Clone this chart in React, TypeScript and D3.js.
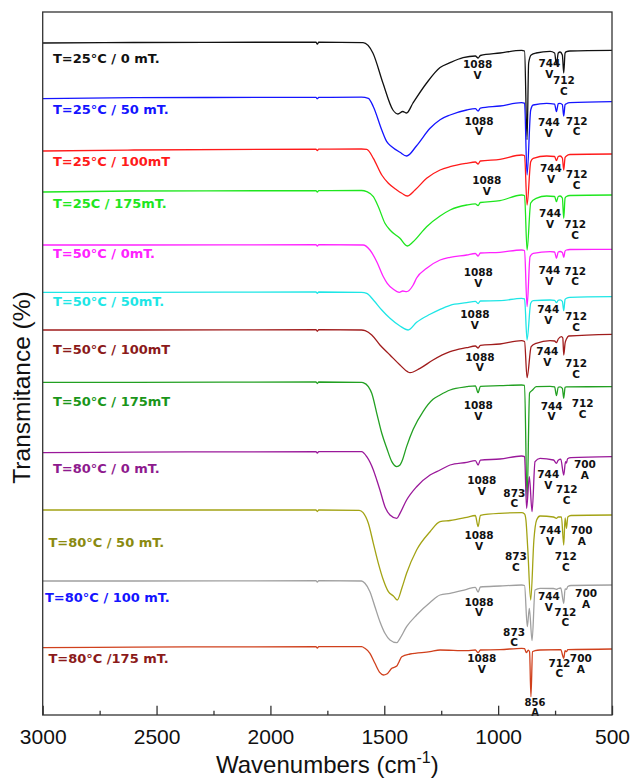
import React, { useEffect, useRef } from 'react';
import * as d3 from 'd3';

type Pt = [number, number];
type Peak = [string, string, number, number]; // peak, band, label wavenumber, label depth below trace

// x axis ticks (cm-1)
const X_TICKS = [3000, 2500, 2000, 1500, 1000, 500];
const X_MINOR = [2750, 2250, 1750, 1250, 750];

const SERIES_NAMES = [
  'T=25°C / 0 mT.', 'T=25°C / 50 mT.', 'T=25°C / 100mT', 'T=25C / 175mT.',
  'T=50°C / 0mT.', 'T=50°C / 50mT.', 'T=50°C / 100mT', 'T=50°C / 175mT',
  'T=80°C / 0 mT.', 'T=80°C / 50 mT.', 'T=80°C / 100 mT.', 'T=80°C /175 mT.',
];

const LINE_COLORS = [
  '#111111', '#1414ff', '#ff1a1a', '#1ee61e', '#ff22ff', '#1ee6e6',
  '#a01c1c', '#22a022', '#9a189a', '#a3a314', '#a0a0a0', '#d0401c',
];
const LABEL_COLORS = [
  '#111111', '#1414ff', '#ff1a1a', '#1ee61e', '#ff22ff', '#1ee6e6',
  '#8b1a1a', '#1a961a', '#8e1a8e', '#8a8a10', '#1414ff', '#8b1a1a',
];

// stacking offset of each trace (arb. transmittance units)
const OFFSETS = [672, 616.3, 564, 523, 470, 422.7, 385, 332.7, 262.3, 205, 134, 67.3];

// [wavenumber, change from the trace's own high-wavenumber baseline]
const S_25_0: Pt[] = [[3000,0],[2600,0.5],[1800,0.8],[1794,-1.2],[1788,0.8],[1593,0.3],[1550,-10],[1506,-40],[1462,-67],[1440,-71],[1419,-68.5],[1402,-70],[1374,-60],[1314,-40],[1255,-24.5],[1211,-19.7],[1154,-14.7],[1100,-13],[1088,-15],[1078,-12.5],[992,-10],[897,-7.4],[884,-8],[873,-96.7],[866,-20],[855,-12],[833,-10],[772,-8.4],[752,-10],[744,-21.7],[736,-10],[728,-9],[718,-12],[712,-30],[706,-10],[700,-8.7],[685,-8],[500,-7.4]];
const S_25_50: Pt[] = [[3000,0],[2600,1],[1800,1.3],[1794,0],[1788,1.3],[1600,1.5],[1570,0.4],[1548,-8],[1511,-31.3],[1489,-43],[1467,-48],[1431,-53.6],[1402,-57.3],[1358,-47],[1299,-29.6],[1255,-21],[1211,-16.3],[1138,-11.3],[1100,-10],[1088,-12.3],[1078,-9.5],[992,-7.3],[897,-4],[884,-4.5],[873,-76.3],[857,-11.3],[846,-6.3],[787,-4.6],[752,-5.5],[744,-13],[736,-5],[728,-4.6],[718,-6],[712,-17.3],[706,-6],[700,-5],[685,-4],[500,-3]];
const S_25_100: Pt[] = [[3000,0],[2600,1],[1800,1.8],[1794,0.5],[1788,1.8],[1600,2],[1577,1.7],[1548,-7.3],[1511,-24],[1482,-32.3],[1445,-39],[1423,-42.3],[1399,-45],[1365,-39],[1314,-27.3],[1255,-19],[1211,-15.7],[1138,-12.3],[1100,-11],[1088,-13],[1078,-10],[992,-8.3],[897,-4],[884,-4.5],[873,-54],[857,-10.7],[846,-7.3],[787,-5],[752,-5.5],[744,-9.7],[736,-5.5],[728,-5],[718,-7],[712,-19],[706,-6.5],[700,-5],[685,-3.5],[500,-3]];
const S_25_175: Pt[] = [[3000,0],[2600,1],[1800,1.3],[1794,0],[1788,1.3],[1600,1.5],[1577,0.3],[1548,-4.7],[1526,-14.7],[1497,-31.3],[1475,-38],[1431,-46.3],[1399,-54],[1373,-49.7],[1314,-34.7],[1255,-24],[1211,-18],[1138,-13],[1100,-11.8],[1088,-13.5],[1078,-10.5],[992,-8.7],[897,-3],[884,-3.5],[873,-58],[857,-11],[833,-6.3],[787,-4],[752,-4.5],[744,-9.7],[736,-4.5],[728,-4],[718,-6],[712,-26.3],[706,-6],[700,-4.5],[685,-3.5],[500,-3]];
const S_50_0: Pt[] = [[3000,0],[2600,0],[1800,0.3],[1794,-1],[1788,0.3],[1593,0],[1563,-5],[1533,-16.7],[1504,-31.7],[1487,-38.3],[1460,-44.3],[1434,-47.3],[1419,-46],[1402,-46.7],[1373,-40],[1358,-33],[1314,-23.3],[1255,-15],[1211,-12.3],[1138,-10],[1100,-8.5],[1088,-11],[1078,-8],[992,-7.3],[897,-5],[884,-5.5],[873,-61.7],[860,-11.7],[846,-8.3],[772,-6.7],[752,-7],[744,-13.3],[736,-7],[728,-6.5],[718,-7.5],[712,-12.3],[706,-6],[700,-5],[685,-4.5],[500,-4.3]];
const S_50_50: Pt[] = [[3000,0],[2600,0],[1800,0.3],[1794,-1],[1788,0.3],[1600,0],[1577,-1],[1548,-7.7],[1511,-17.7],[1475,-26],[1431,-33.7],[1395,-37.7],[1358,-30],[1299,-22],[1255,-17],[1211,-13],[1138,-10.4],[1100,-9],[1088,-11.2],[1078,-8.7],[992,-8.4],[897,-6],[884,-6.5],[873,-47.7],[857,-11],[846,-8.4],[772,-7.7],[752,-8],[744,-10.4],[736,-8],[728,-7.5],[718,-9],[712,-18.4],[706,-7],[700,-6],[685,-5],[500,-4.4]];
const S_50_100: Pt[] = [[3000,0],[2600,0],[1800,0.3],[1794,-1.3],[1788,0.3],[1600,0],[1584,-0.7],[1555,-5],[1519,-15],[1475,-25],[1431,-35],[1398,-41.7],[1387,-42.7],[1343,-38.3],[1286,-30],[1211,-21.7],[1138,-17.7],[1100,-16],[1088,-18],[1078,-15.3],[992,-14],[897,-10.7],[884,-11.5],[873,-47.7],[855,-16.7],[833,-13.3],[772,-10.7],[752,-11],[744,-12.7],[736,-9],[722,-6.7],[716,-8],[712,-25],[706,-13],[700,-9],[690,-6],[500,-4.3]];
const S_50_175: Pt[] = [[3000,0],[2600,0],[1800,0.3],[1794,-1.2],[1788,0.3],[1600,0],[1593,-0.3],[1570,-4.3],[1555,-11],[1533,-31],[1511,-51],[1489,-66],[1467,-79.3],[1445,-84.3],[1431,-82.7],[1423,-79.3],[1402,-64.3],[1373,-47],[1329,-29],[1286,-17],[1255,-12.7],[1211,-7.7],[1138,-4.4],[1100,-3.5],[1088,-10.4],[1078,-4],[992,-3.4],[897,-2.7],[884,-3],[873,-118],[862,-10.7],[850,-8],[833,-4.4],[772,-4],[752,-4.5],[744,-13.4],[736,-5],[728,-4.5],[718,-6],[712,-16],[706,-5],[700,-4.5],[500,-4.4]];
const S_80_0: Pt[] = [[3000,0],[2600,0.5],[1800,1],[1794,-0.5],[1788,1],[1600,1],[1577,-4],[1548,-17.3],[1533,-27.3],[1519,-37.3],[1497,-54],[1475,-62.3],[1445,-65.6],[1431,-60.6],[1402,-47.3],[1358,-34],[1299,-22.3],[1255,-17.3],[1211,-12.3],[1138,-9.6],[1100,-8],[1088,-12.3],[1078,-7.5],[992,-6.3],[897,-3.3],[884,-4],[875,-55.6],[863,-24],[851,-59],[838,-9],[816,-5.6],[757,-7.3],[744,-10.6],[736,-7.5],[725,-6.5],[712,-22.3],[704,-9],[700,-10.3],[695,-6],[680,-5],[500,-4]];
const S_80_50: Pt[] = [[3000,0],[2600,0],[1800,0],[1794,-1.5],[1788,0],[1610,-0.3],[1593,-2.7],[1570,-13.3],[1548,-33.3],[1526,-53.3],[1504,-70],[1482,-81.7],[1460,-86],[1443,-90],[1423,-78.3],[1402,-63.3],[1358,-40],[1299,-21.7],[1255,-11.7],[1211,-10.5],[1138,-7.3],[1100,-5.5],[1088,-16.7],[1078,-5.3],[992,-3.3],[897,-2.7],[884,-4],[878,-10],[870,-38.3],[857,-90],[843,-30],[831,-10],[816,-6],[757,-7],[744,-8.3],[736,-7],[722,-7],[712,-35],[706,-8],[700,-18.3],[694,-7],[680,-5.5],[500,-5]];
const S_80_100: Pt[] = [[3000,0],[2600,0],[1800,0.3],[1794,-1],[1788,0.3],[1600,0],[1585,-2.3],[1563,-10.7],[1541,-25.7],[1519,-40.7],[1497,-52.3],[1475,-59],[1445,-61.7],[1431,-57.3],[1402,-45.7],[1358,-34],[1299,-21.5],[1255,-14],[1211,-12.3],[1138,-8.3],[1100,-6.3],[1088,-11],[1078,-6],[992,-5],[897,-4],[884,-4.5],[872,-45.7],[863,-27.3],[851,-59.7],[838,-9],[816,-7.3],[757,-7.5],[744,-8.3],[736,-7.5],[725,-7],[712,-22.3],[706,-8],[700,-8.3],[694,-5.5],[680,-4.5],[500,-4]];
const S_80_175: Pt[] = [[3000,0],[2600,0.5],[1800,1],[1794,-0.3],[1788,1],[1600,1],[1585,-0.6],[1563,-5.6],[1541,-15.6],[1519,-25],[1504,-27.3],[1489,-26.3],[1467,-20.6],[1445,-18.3],[1435,-14],[1423,-9],[1387,-6.3],[1299,-4],[1255,-2.3],[1138,-3],[1100,-2.3],[1088,-5],[1078,-2.3],[992,-2],[897,-0.6],[884,-1],[876,-5],[868,-2.5],[862,-4],[856,-49],[849,-4],[838,-3],[816,-2.3],[725,-2],[712,-10.6],[706,-3],[700,-4],[694,-2],[500,-1.3]];

const SPECTRA = [S_25_0, S_25_50, S_25_100, S_25_175, S_50_0, S_50_50, S_50_100, S_50_175, S_80_0, S_80_50, S_80_100, S_80_175];

// series name anchor: [wavenumber, depth below trace]
const NAME_POS: Pt[] = [
  [2955, 19.7], [2955, 15.6], [2955, 14.7], [2955, 15.5], [2955, 12.5], [2955, 13.2],
  [2955, 23.5], [2955, 23.7], [2955, 20.6], [2975, 36.7], [2990, 20.7], [2975, 15],
];

// band assignments (V = vaterite, C = calcite, A = aragonite)
const PEAKS: Peak[][] = [
  [['1088', 'V', 1090, 24.8], ['744', 'V', 775, 23.8], ['712', 'C', 711, 41.2]],
  [['1088', 'V', 1084, 25.8], ['744', 'V', 777, 27.4], ['712', 'C', 655, 25.8]],
  [['1088', 'V', 1050, 32.8], ['744', 'V', 768, 21.1], ['712', 'C', 655, 27.1]],
  [['744', 'V', 772, 25.1], ['712', 'C', 662, 35.8]],
  [['1088', 'V', 1087, 31.1], ['744', 'V', 775, 28.8], ['712', 'C', 662, 29.5]],
  [['1088', 'V', 1102, 25.8], ['744', 'V', 780, 20.8], ['712', 'C', 658, 27.5]],
  [['1088', 'V', 1080, 30.5], ['744', 'V', 784, 24.8], ['712', 'C', 658, 37.1]],
  [['1088', 'V', 1087, 26.5], ['744', 'V', 765, 27.2], ['712', 'C', 629, 24.8]],
  [['1088', 'V', 1072, 31.1], ['873', 'C', 929, 43.8], ['744', 'V', 780, 25.4], ['712', 'C', 699, 40.4], ['700', 'A', 619, 15.4]],
  [['1088', 'V', 1084, 28.8], ['873', 'C', 922, 49.8], ['744', 'V', 772, 23.8], ['712', 'C', 703, 49.8], ['700', 'A', 633, 23.8]],
  [['1088', 'V', 1084, 24.5], ['873', 'C', 930, 54.5], ['744', 'V', 777, 18.8], ['712', 'C', 705, 34.5], ['700', 'A', 614, 16.1]],
  [['1088', 'V', 1072, 14.4], ['712', 'C', 731, 18.8], ['700', 'A', 637, 14.4], ['856', 'A', 838, 57.8]],
];

const App = () => {
  const svgRef = useRef<SVGSVGElement>(null);

  useEffect(() => {
    const svg = d3.select(svgRef.current);
    svg.selectAll('*').remove();

    const width = 631;
    const height = 779;
    const margin = { top: 12, right: 19, bottom: 64, left: 42.7 };
    const axisFont = '"Liberation Sans", Arial, sans-serif';
    const labelFont = '"DejaVu Sans", Verdana, sans-serif';

    svg.attr('width', width).attr('height', height);
    svg.append('rect').attr('width', width).attr('height', height).attr('fill', '#fff');

    const x = d3.scaleLinear().domain([3000, 500]).range([margin.left, width - margin.right]);
    const y = d3.scaleLinear().domain([0, 703]).range([height - margin.bottom, margin.top]);

    svg.append('clipPath').attr('id', 'plot-clip')
      .append('rect')
      .attr('x', margin.left).attr('y', margin.top)
      .attr('width', width - margin.left - margin.right)
      .attr('height', height - margin.top - margin.bottom);

    // spectra
    SPECTRA.forEach((pts, i) => {
      const base = OFFSETS[i];
      const line = d3.line<Pt>()
        .x(d => x(d[0]))
        .y(d => y(base + d[1]))
        .curve(d3.curveMonotoneX);
      svg.append('path')
        .datum(pts)
        .attr('clip-path', 'url(#plot-clip)')
        .attr('fill', 'none')
        .attr('stroke', LINE_COLORS[i])
        .attr('stroke-width', 1.3)
        .attr('stroke-linejoin', 'round')
        .attr('d', line);
    });

    // series names
    SERIES_NAMES.forEach((name, i) => {
      svg.append('text')
        .attr('x', x(NAME_POS[i][0]))
        .attr('y', y(OFFSETS[i] - NAME_POS[i][1]))
        .attr('fill', LABEL_COLORS[i])
        .attr('font-family', labelFont)
        .attr('font-weight', 'bold')
        .attr('font-size', 13)
        .text(name);
    });

    // peak assignments
    PEAKS.forEach((peaks, i) => {
      peaks.forEach(([peak, band, wn, depth]) => {
        const t = svg.append('text')
          .attr('x', x(wn))
          .attr('y', y(OFFSETS[i] - depth))
          .attr('text-anchor', 'middle')
          .attr('fill', '#111')
          .attr('font-family', labelFont)
          .attr('font-weight', 'bold')
          .attr('font-size', peak === '856' ? 10 : 10.5);
        t.append('tspan').text(peak);
        t.append('tspan').attr('x', x(wn)).attr('dy', '1.02em').text(band);
      });
    });

    // x axis, ticks pointing inward
    const gx = svg.append('g').attr('transform', `translate(0,${height - margin.bottom})`);
    gx.call(d3.axisBottom(x).tickValues(X_TICKS).tickSize(-9.3).tickSizeOuter(0)
      .tickPadding(14).tickFormat(d3.format('d')));
    gx.select('.domain').remove();
    gx.attr('font-size', 21).attr('font-family', axisFont);
    gx.selectAll('line').attr('stroke', '#333').attr('stroke-width', 1.3);
    gx.selectAll('text').attr('fill', '#111');

    const gMinor = svg.append('g').attr('transform', `translate(0,${height - margin.bottom})`);
    gMinor.call(d3.axisBottom(x).tickValues(X_MINOR).tickSize(-4.3).tickSizeOuter(0)
      .tickFormat(() => ''));
    gMinor.select('.domain').remove();
    gMinor.selectAll('line').attr('stroke', '#333').attr('stroke-width', 1.3);

    // frame
    svg.append('rect')
      .attr('x', margin.left).attr('y', margin.top)
      .attr('width', width - margin.left - margin.right)
      .attr('height', height - margin.top - margin.bottom)
      .attr('fill', 'none')
      .attr('stroke', '#333')
      .attr('stroke-width', 1.3);

    // axis titles
    const xt = svg.append('text')
      .attr('x', (margin.left + width - margin.right) / 2)
      .attr('y', 773)
      .attr('text-anchor', 'middle')
      .attr('font-family', axisFont)
      .attr('font-size', 24)
      .attr('fill', '#111');
    xt.append('tspan').text('Wavenumbers (cm');
    xt.append('tspan').attr('font-size', 16).attr('dy', -10).text('-1');
    xt.append('tspan').attr('dy', 10).text(')');

    svg.append('text')
      .attr('transform', `translate(30,${(margin.top + height - margin.bottom) / 2 + 24}) rotate(-90)`)
      .attr('text-anchor', 'middle')
      .attr('font-family', axisFont)
      .attr('font-size', 24.5)
      .attr('fill', '#111')
      .text('Transmitance (%)');
  }, []);

  return (
    <div style={{ position: 'absolute', left: 0, top: 0 }}>
      <svg ref={svgRef}></svg>
    </div>
  );
};

export default App;
